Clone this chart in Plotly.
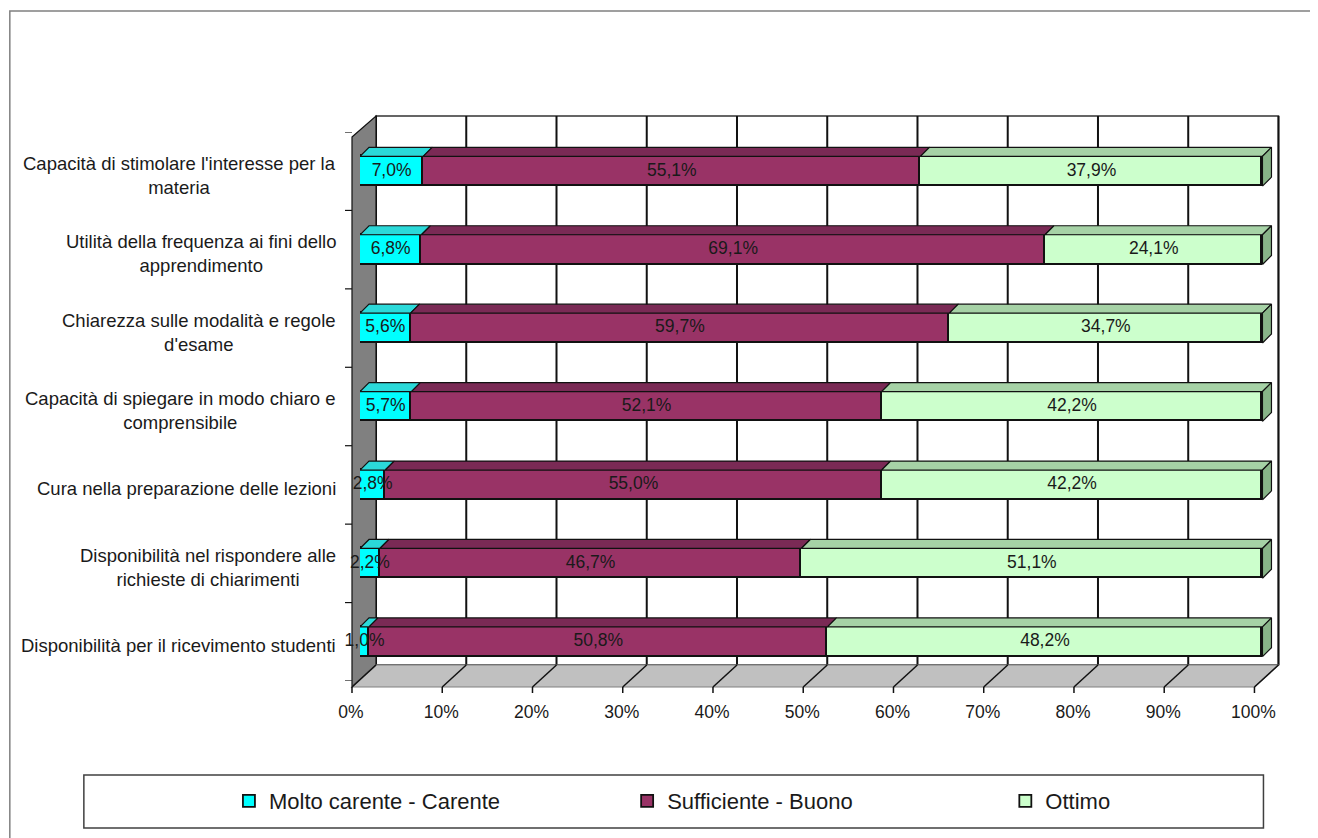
import plotly.graph_objects as go

# ---- data (top-to-bottom order as displayed) ----
categories = [
    "Capacità di stimolare l'interesse per la<br>materia",
    "Utilità della frequenza ai fini dello<br>apprendimento",
    "Chiarezza sulle modalità e regole<br>d'esame",
    "Capacità di spiegare in modo chiaro e<br>comprensibile",
    "Cura nella preparazione delle lezioni",
    "Disponibilità nel rispondere alle<br>richieste di chiarimenti",
    "Disponibilità per il ricevimento studenti",
]
series_names = ["Molto carente - Carente", "Sufficiente - Buono", "Ottimo"]
molto_carente = [7.0, 6.8, 5.6, 5.7, 2.8, 2.2, 1.0]
sufficiente = [55.1, 69.1, 59.7, 52.1, 55.0, 46.7, 50.8]
ottimo = [37.9, 24.1, 34.7, 42.2, 42.2, 51.1, 48.2]
tick_values = [0, 10, 20, 30, 40, 50, 60, 70, 80, 90, 100]
tick_labels = ["0%", "10%", "20%", "30%", "40%", "50%", "60%", "70%", "80%", "90%", "100%"]

# ---- styling ----
FONT = "Liberation Sans, Arial, sans-serif"
TXT = "#1A1A1A"
front_colors = ["#00FFFF", "#993366", "#CCFFCC"]
top_colors = ["#2BD9D9", "#7A2A55", "#A6D2A6"]
cap_color = "#88B488"
BAR_W = 0.38

# page has an 8px body margin; figure is sized to fit the window
OFF = 8
W, H = 1318 - OFF, 838 - OFF
SCALE = 902            # pixels per 100 %
XMAX = 1.015           # a little room on the right for the 3D caps
PWp = SCALE * XMAX
PH = 681 - 132
# plot area in page pixels: x from 360, y 132..681
ML = 360 - OFF
MT = 132 - OFF
MR = W - (ML + PWp)
MB = H - (681 - OFF)


def px_x(px):
    return (px - 360) / PWp


def px_y(py):
    return (681 - py) / PH


n = len(categories)
ypos = [n - 1 - j for j in range(n)]
series = [[v / 100 for v in molto_carente], [v / 100 for v in sufficiente], [v / 100 for v in ottimo]]

DX = 9 / SCALE         # bar depth in x data units
DY = 9 / (PH / n)      # bar depth in category units

fig = go.Figure()

legends = ["legend", "legend2", "legend3"]
# front faces
for s, name in enumerate(series_names):
    fig.add_trace(go.Bar(
        x=series[s], y=ypos, orientation="h", width=BAR_W, name=name, legend=legends[s],
        marker=dict(color=front_colors[s], line=dict(color="#111111", width=1.8)),
        textposition="none", hoverinfo="skip",
    ))

# top faces and caps (3D effect) derived from the data
starts = [[0.0] * n, series[0], [a + b for a, b in zip(series[0], series[1])]]
for s in range(3):
    xs, ys = [], []
    for j in range(n):
        a = starts[s][j]
        b = a + series[s][j]
        yt = ypos[j] + BAR_W / 2
        xs += [a, b, b + DX, a + DX, a, None]
        ys += [yt, yt, yt + DY, yt + DY, yt, None]
    fig.add_trace(go.Scatter(
        x=xs, y=ys, mode="lines", fill="toself", fillcolor=top_colors[s],
        line=dict(color="#111111", width=1.2), showlegend=False, hoverinfo="skip",
    ))
xs, ys = [], []
for j in range(n):
    b = starts[2][j] + series[2][j]
    y0, y1 = ypos[j] - BAR_W / 2, ypos[j] + BAR_W / 2
    xs += [b, b + DX, b + DX, b, b, None]
    ys += [y0, y0 + DY, y1 + DY, y1, y0, None]
fig.add_trace(go.Scatter(
    x=xs, y=ys, mode="lines", fill="toself", fillcolor=cap_color,
    line=dict(color="#111111", width=1.2), showlegend=False, hoverinfo="skip",
))

# data labels
for s in range(3):
    mids = [starts[s][j] + series[s][j] / 2 for j in range(n)]
    raw = [molto_carente, sufficiente, ottimo][s]
    texts = [f"{v:.1f}%".replace(".", ",") for v in raw]
    fig.add_trace(go.Scatter(
        x=mids, y=ypos, mode="text", text=texts, textposition="middle center",
        textfont=dict(family=FONT, size=17.5, color=TXT),
        showlegend=False, hoverinfo="skip", cliponaxis=False,
    ))

shapes = []
# outer frame
shapes.append(dict(type="rect", xref="paper", yref="paper", x0=px_x(10), x1=px_x(1330),
                   y0=px_y(850), y1=px_y(11), line=dict(color="#808080", width=1.5), layer="below"))
# back wall
shapes.append(dict(type="rect", xref="paper", yref="paper", x0=px_x(376), x1=px_x(376 + SCALE),
                   y0=px_y(665), y1=px_y(116), fillcolor="white",
                   line=dict(color="#333333", width=1.5), layer="below"))
# back gridlines
for t in tick_values:
    xg = px_x(376 + t / 100 * SCALE)
    shapes.append(dict(type="line", xref="paper", yref="paper", x0=xg, x1=xg,
                       y0=px_y(665), y1=px_y(116), line=dict(color="#111111", width=2), layer="below"))
# left wall
shapes.append(dict(type="path", xref="paper", yref="paper",
                   path=f"M{px_x(352)},{px_y(137)} L{px_x(376)},{px_y(116)} L{px_x(376)},{px_y(665)} L{px_x(352)},{px_y(687)} Z",
                   fillcolor="#808080", line=dict(color="#111111", width=1.2), layer="below"))
# floor
shapes.append(dict(type="path", xref="paper", yref="paper",
                   path=f"M{px_x(352)},{px_y(687)} L{px_x(376)},{px_y(665)} L{px_x(376 + SCALE)},{px_y(665)} L{px_x(352 + SCALE)},{px_y(687)} Z",
                   fillcolor="#C0C0C0", line=dict(color="#808080", width=1.2), layer="below"))
# floor diagonals and x ticks
for t in tick_values:
    xb = px_x(376 + t / 100 * SCALE)
    xf = px_x(352 + t / 100 * SCALE)
    shapes.append(dict(type="line", xref="paper", yref="paper", x0=xb, x1=xf,
                       y0=px_y(665), y1=px_y(687), line=dict(color="#111111", width=1.5), layer="below"))
    shapes.append(dict(type="line", xref="paper", yref="paper", x0=xf, x1=xf,
                       y0=px_y(687), y1=px_y(693), line=dict(color="#111111", width=1.5), layer="below"))
# y ticks on the wall edge
for k in range(n + 1):
    shapes.append(dict(type="line", xref="paper", yref="y", x0=px_x(345), x1=px_x(352),
                       y0=k - 0.5, y1=k - 0.5, line=dict(color="#111111", width=1.2), layer="below"))
# legend box
shapes.append(dict(type="rect", xref="paper", yref="paper", x0=px_x(84), x1=px_x(1263),
                   y0=px_y(828), y1=px_y(775), line=dict(color="#404040", width=1.5), layer="below"))

annotations = []
for j, c in enumerate(categories):
    annotations.append(dict(
        text=c, xref="paper", yref="y", x=px_x(338), y=ypos[j], xanchor="right",
        yanchor="middle", align="center", showarrow=False, yshift=-4,
        font=dict(family=FONT, size=18.5, color=TXT),
    ))

legend_x = [229, 627, 1005]
legend_style = dict(orientation="h", xanchor="left", yanchor="middle",
                    font=dict(family=FONT, size=22, color=TXT), bgcolor="rgba(0,0,0,0)",
                    itemclick=False, itemdoubleclick=False, borderwidth=0)

fig.update_layout(
    width=W, height=H,
    margin=dict(l=ML, r=MR, t=MT, b=MB),
    paper_bgcolor="white", plot_bgcolor="rgba(0,0,0,0)",
    barmode="stack", bargap=0,
    showlegend=True,
    legend=dict(x=px_x(legend_x[0]), y=px_y(801), **legend_style),
    legend2=dict(x=px_x(legend_x[1]), y=px_y(801), **legend_style),
    legend3=dict(x=px_x(legend_x[2]), y=px_y(801), **legend_style),
    xaxis=dict(range=[0, XMAX], tickvals=[t / 100 for t in tick_values], ticktext=tick_labels,
               showgrid=False, zeroline=False, showline=False, ticks="",
               ticklabelshift=-9, ticklabelstandoff=18,
               tickfont=dict(family=FONT, size=17.5, color=TXT), fixedrange=True),
    yaxis=dict(range=[-0.5, n - 0.5], showgrid=False, zeroline=False, showline=False,
               showticklabels=False, ticks="", fixedrange=True),
    shapes=shapes, annotations=annotations,
    font=dict(family=FONT),
)

fig.write_html("out.html")
